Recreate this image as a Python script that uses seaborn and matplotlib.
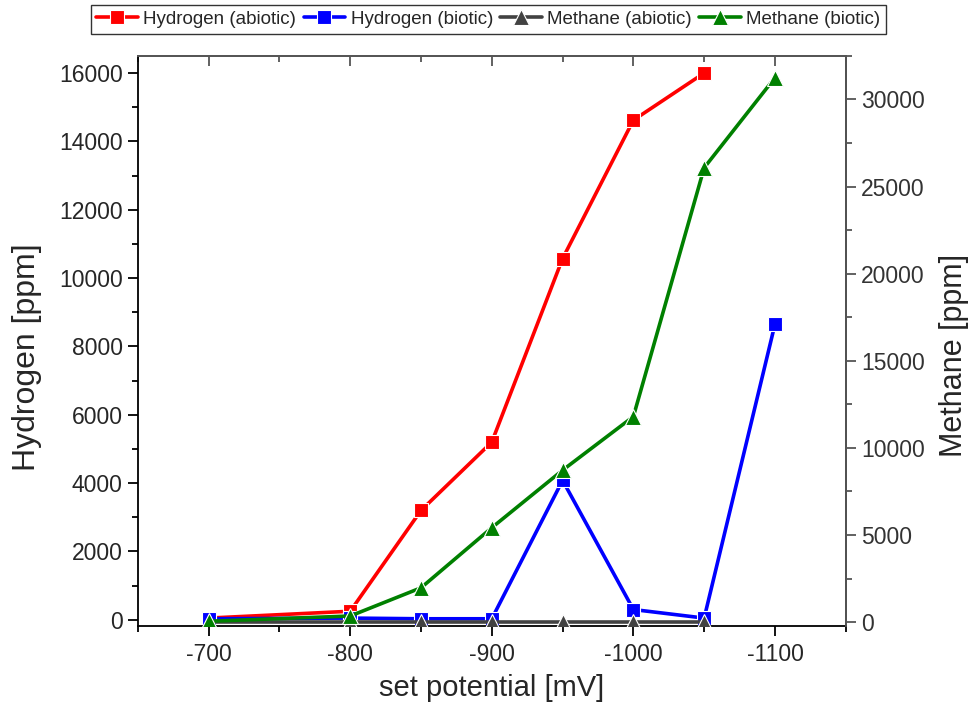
import numpy as np
import pandas as pd
import matplotlib
matplotlib.use("Agg")
import matplotlib.pyplot as plt
import seaborn as sns
from matplotlib.ticker import MultipleLocator

# -----------------------------
# Datos
# -----------------------------
potential = [-700, -800, -850, -900, -950, -1000, -1050, -1100]
h2_abiotic = [50, 250, 3200, 5200, 10570, 14620, 16000, np.nan]
h2_biotic = [30, 50, 30, 30, 4080, 300, 50, 8650]
ch4_abiotic = [0, 0, 0, 0, 0, 0, 0, np.nan]
ch4_biotic = [50, 350, 1970, 5420, 8720, 11800, 26080, 31250]

labels = ["Hydrogen (abiotic)", "Hydrogen (biotic)", "Methane (abiotic)", "Methane (biotic)"]
colors = ["#ff0000", "#0000ff", "#424242", "#008000"]

df = pd.DataFrame({
    "potential": potential,
    labels[0]: h2_abiotic,
    labels[1]: h2_biotic,
    labels[2]: ch4_abiotic,
    labels[3]: ch4_biotic,
})

sns.set_style("white")
plt.rcParams["font.family"] = ["Liberation Sans", "DejaVu Sans"]
plt.rcParams["axes.unicode_minus"] = False

fig = plt.figure(figsize=(9.71, 7.17), dpi=100)
ax = fig.add_axes([0.142, 0.127, 0.729, 0.795])
ax2 = ax.twinx()

for lab, col in zip(labels[:2], colors[:2]):
    d = df[["potential", lab]].dropna()
    sns.lineplot(data=d, x="potential", y=lab, ax=ax, color=col, marker="s",
                 label=lab, legend=False, linewidth=2.6, markersize=9.5,
                 markeredgecolor="white", markeredgewidth=0.8)

for lab, col in zip(labels[2:], colors[2:]):
    d = df[["potential", lab]].dropna()
    sns.lineplot(data=d, x="potential", y=lab, ax=ax2, color=col, marker="^",
                 label=lab, legend=False, linewidth=2.6, markersize=11.5,
                 markeredgecolor="white", markeredgewidth=0.8)

# -----------------------------
# Ejes
# -----------------------------
ax.set_xlim(-650, -1150)
ax.set_ylim(-180, 16500)
ax2.set_ylim(-220, 32500)

ax.xaxis.set_major_locator(MultipleLocator(100))
ax.xaxis.set_minor_locator(MultipleLocator(50))
ax.yaxis.set_major_locator(MultipleLocator(2000))
ax.yaxis.set_minor_locator(MultipleLocator(1000))
ax2.yaxis.set_major_locator(MultipleLocator(5000))
ax2.yaxis.set_minor_locator(MultipleLocator(2500))

ax.set_xlabel("set potential [mV]", fontsize=21, labelpad=6)
ax.set_ylabel("Hydrogen [ppm]", fontsize=23)
ax2.set_ylabel("Methane [ppm]", fontsize=22)
ax.yaxis.set_label_coords(-0.136, 0.472)
ax2.yaxis.set_label_coords(1.132, 0.475)

gray = "#555555"
for a in (ax, ax2):
    for s in a.spines.values():
        s.set_linewidth(1.3)
ax.spines["left"].set_color("black")
ax.spines["bottom"].set_color("black")
ax.spines["top"].set_color(gray)
ax2.spines["top"].set_color(gray)
ax2.spines["right"].set_color(gray)
ax2.spines["left"].set_visible(False)
ax2.spines["bottom"].set_visible(False)

ax.tick_params(axis="x", which="both", direction="out", bottom=True, top=False,
               labelsize=16.5, color="black", width=1.3, pad=5)
ax.tick_params(axis="x", which="major", length=7)
ax.tick_params(axis="x", which="minor", length=4)
ax.tick_params(axis="y", which="both", direction="out", left=True, labelsize=16.5,
               color="black", width=1.3, pad=4)
ax.tick_params(axis="y", which="major", length=7)
ax.tick_params(axis="y", which="minor", length=4)
ax2.tick_params(axis="y", which="both", direction="out", right=True, labelsize=16.5,
                color=gray, labelcolor="#333333", width=1.3, pad=4)
ax2.tick_params(axis="y", which="major", length=7)
ax2.tick_params(axis="y", which="minor", length=4)

# marcas del eje superior hacia dentro
ax_top = ax.secondary_xaxis("top")
ax_top.xaxis.set_major_locator(MultipleLocator(100))
ax_top.xaxis.set_minor_locator(MultipleLocator(50))
ax_top.tick_params(which="both", direction="in", color=gray, width=1.3, labeltop=False)
ax_top.tick_params(which="major", length=7)
ax_top.tick_params(which="minor", length=4)
ax_top.spines["top"].set_visible(False)

# -----------------------------
# Leyenda
# -----------------------------
h1, l1 = ax.get_legend_handles_labels()
h2, l2 = ax2.get_legend_handles_labels()
leg = fig.legend(h1 + h2, l1 + l2, loc="center", bbox_to_anchor=(0.503, 0.973),
                 ncol=4, fontsize=13.5, frameon=True, fancybox=False,
                 edgecolor="black", handlelength=2.2, handletextpad=0.3,
                 columnspacing=0.4, borderpad=0.3)
leg.get_frame().set_linewidth(1.0)

fig.savefig("out.png", dpi=100)
